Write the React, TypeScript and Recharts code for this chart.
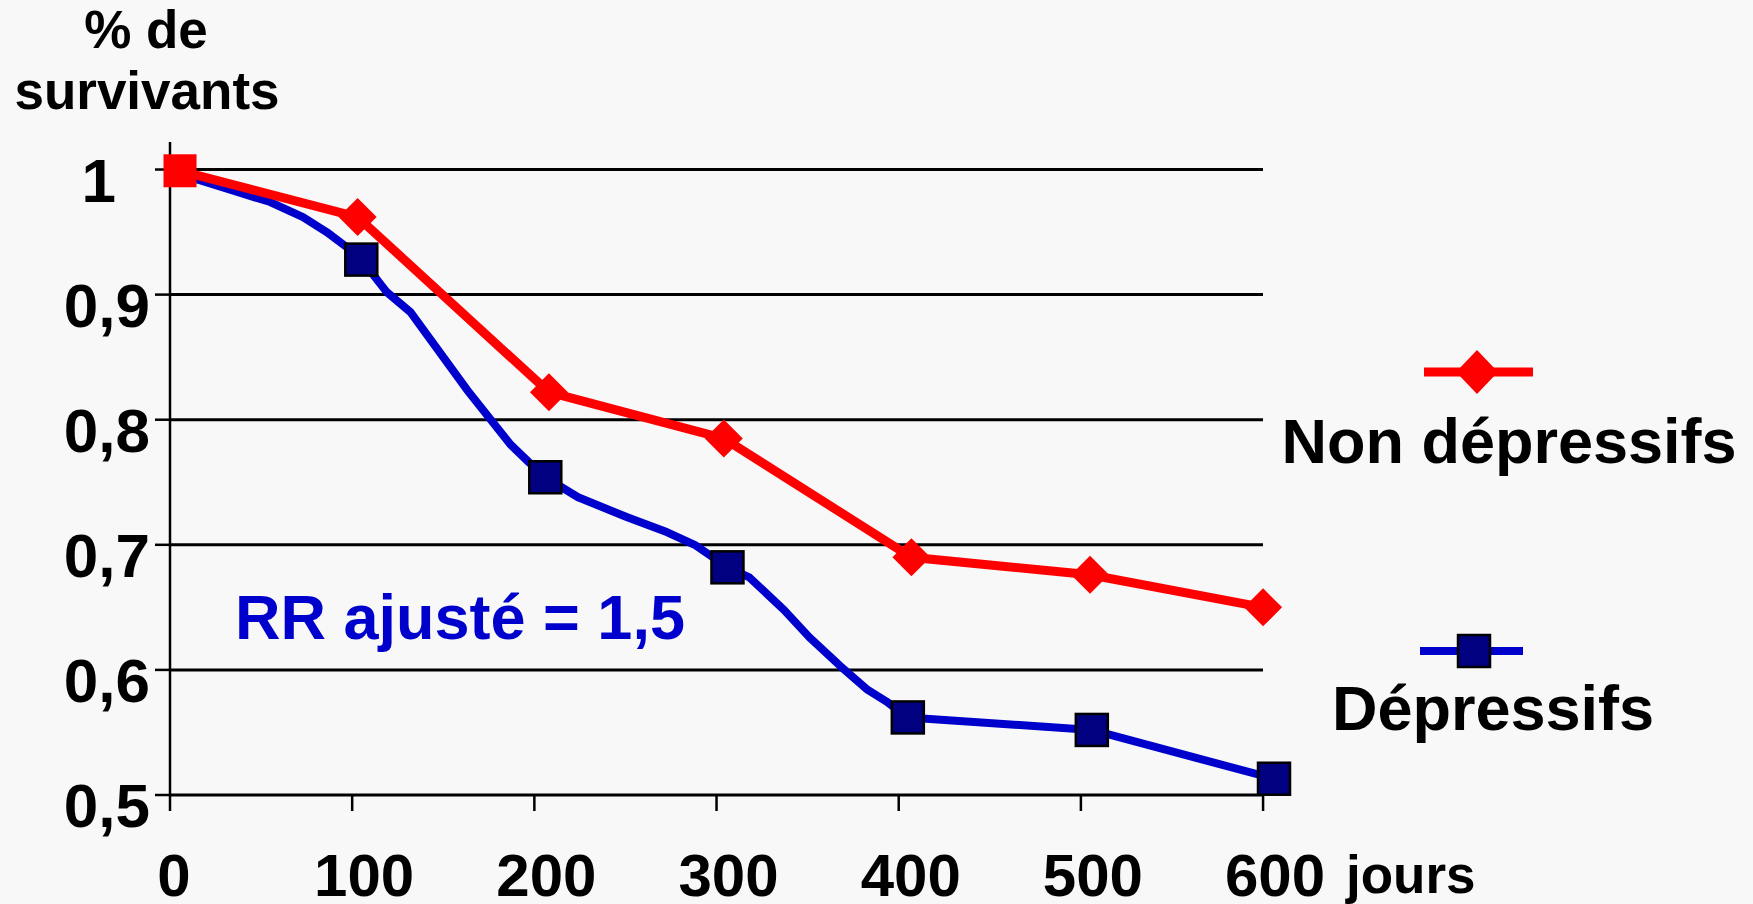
import { LineChart, Line, XAxis, YAxis, CartesianGrid } from 'recharts';

// Non dépressifs
const nonDepDays = [5.5, 103, 208, 304, 407, 505, 600];
const nonDepSurv = [0.999, 0.962, 0.822, 0.785, 0.69, 0.676, 0.65];

// Dépressifs: smoothed curve, markers only on some points
const depDays = [4, 15, 37, 55, 73, 86, 97, 105, 119, 132, 143, 163, 187, 197, 206, 224, 251, 273, 288, 306, 318, 337, 351, 368, 383, 394, 405, 506, 606];
const depSurv = [0.996, 0.992, 0.982, 0.974, 0.962, 0.95, 0.938, 0.928, 0.902, 0.886, 0.864, 0.824, 0.78, 0.766, 0.754, 0.738, 0.722, 0.71, 0.7, 0.682, 0.674, 0.648, 0.626, 0.603, 0.584, 0.574, 0.562, 0.552, 0.513];
const depMarkerDays = [105, 206, 306, 405, 506, 606];

const xTicks = [0, 100, 200, 300, 400, 500, 600];
const yTicks = [0.5, 0.6, 0.7, 0.8, 0.9, 1];

const nonDepData = nonDepDays.map((d, i) => ({ day: d, surv: nonDepSurv[i] }));
const depData = depDays.map((d, i) => ({ day: d, surv: depSurv[i], marker: depMarkerDays.includes(d) }));

const FONT = '"Liberation Sans", Arial, sans-serif';
const RED = '#ff0000';
const BLUE = '#0000cc';
const NAVY = '#000080';

const fmt = (v: number) => (v === 1 ? '1' : v.toFixed(1).replace('.', ','));

function XTick(props: any) {
    const { x, y, payload } = props;
    const dx = payload.value === 0 ? 4 : 12;
    return (
        <text x={x + dx} y={y + 83} textAnchor="middle" fontFamily={FONT} fontWeight="bold" fontSize={60} fill="#000">
            {payload.value}
        </text>
    );
}

function YTick(props: any) {
    const { x, y, payload } = props;
    const shift = payload.value === 1 ? 34 : 0;
    return (
        <text x={x - shift} y={y + 32} textAnchor="end" fontFamily={FONT} fontWeight="bold" fontSize={62} fill="#000">
            {fmt(payload.value)}
        </text>
    );
}

function RedDot(props: any) {
    const { cx, cy, index } = props;
    if (cx == null || cy == null) return <g key={`r${index}`} />;
    if (index === 0) {
        return <rect key={`r${index}`} x={cx - 16.5} y={cy - 16.5} width={33} height={33} fill={RED} />;
    }
    const s = 19;
    return (
        <path
            key={`r${index}`}
            d={`M${cx},${cy - s} L${cx + s},${cy} L${cx},${cy + s} L${cx - s},${cy} Z`}
            fill={RED}
        />
    );
}

function BlueDot(props: any) {
    const { cx, cy, index, payload } = props;
    if (cx == null || cy == null || !payload.marker) return <g key={`b${index}`} />;
    return (
        <rect key={`b${index}`} x={cx - 16} y={cy - 16} width={32} height={32} fill={NAVY} stroke="#000" strokeWidth={2.5} />
    );
}

export default function App() {
    return (
        <div style={{ position: 'fixed', left: 0, top: 0, width: 1753, height: 904, background: '#f8f8f8' }}>
            <LineChart width={1753} height={904} margin={{ top: 142, right: 479, bottom: 9, left: 70 }}>
                <CartesianGrid horizontal vertical={false} syncWithTicks stroke="#000" strokeWidth={3} width={1093} />
                <XAxis
                    type="number"
                    dataKey="day"
                    domain={[0, 606]}
                    ticks={xTicks}
                    interval={0}
                    height={100}
                    axisLine={false}
                    tickLine={{ stroke: '#000', strokeWidth: 2.5 }}
                    tickSize={16}
                    tickMargin={2}
                    tick={<XTick />}
                />
                <YAxis
                    type="number"
                    domain={[0.5, 1.022]}
                    ticks={yTicks}
                    interval={0}
                    width={100}
                    axisLine={{ stroke: '#000', strokeWidth: 2.5 }}
                    tickLine={{ stroke: '#000', strokeWidth: 2.5 }}
                    tickSize={15}
                    tickMargin={5}
                    tick={<YTick />}
                />
                <Line
                    data={depData}
                    dataKey="surv"
                    type="linear"
                    stroke={BLUE}
                    strokeWidth={8}
                    strokeLinejoin="round"
                    dot={(p: any) => <BlueDot {...p} />}
                    activeDot={false}
                    isAnimationActive={false}
                />
                <Line
                    data={nonDepData}
                    dataKey="surv"
                    type="linear"
                    stroke={RED}
                    strokeWidth={9}
                    dot={(p: any) => <RedDot {...p} />}
                    activeDot={false}
                    isAnimationActive={false}
                />
            </LineChart>
            <svg width={1753} height={904} style={{ position: 'absolute', left: 0, top: 0, pointerEvents: 'none' }}>
                <g fontFamily={FONT} fontWeight="bold" fill="#000">
                    <text x={146} y={48} fontSize={53} textAnchor="middle">% de</text>
                    <text x={147} y={109} fontSize={53} textAnchor="middle">survivants</text>
                    <text x={1346} y={893} fontSize={53}>jours</text>
                    <text x={235} y={639} fontSize={63} fill={BLUE}>RR ajusté = 1,5</text>
                    <text x={1509} y={463} fontSize={63} textAnchor="middle">Non dépressifs</text>
                    <text x={1493} y={730} fontSize={63} textAnchor="middle">Dépressifs</text>
                </g>
                <line x1={1424} y1={372} x2={1533} y2={372} stroke={RED} strokeWidth={9} />
                <path d="M1477,350 L1498,372 L1477,394 L1456,372 Z" fill={RED} />
                <line x1={1420} y1={651} x2={1523} y2={651} stroke={BLUE} strokeWidth={8} />
                <rect x={1458} y={635} width={32} height={32} fill={NAVY} stroke="#000" strokeWidth={2.5} />
            </svg>
        </div>
    );
}
